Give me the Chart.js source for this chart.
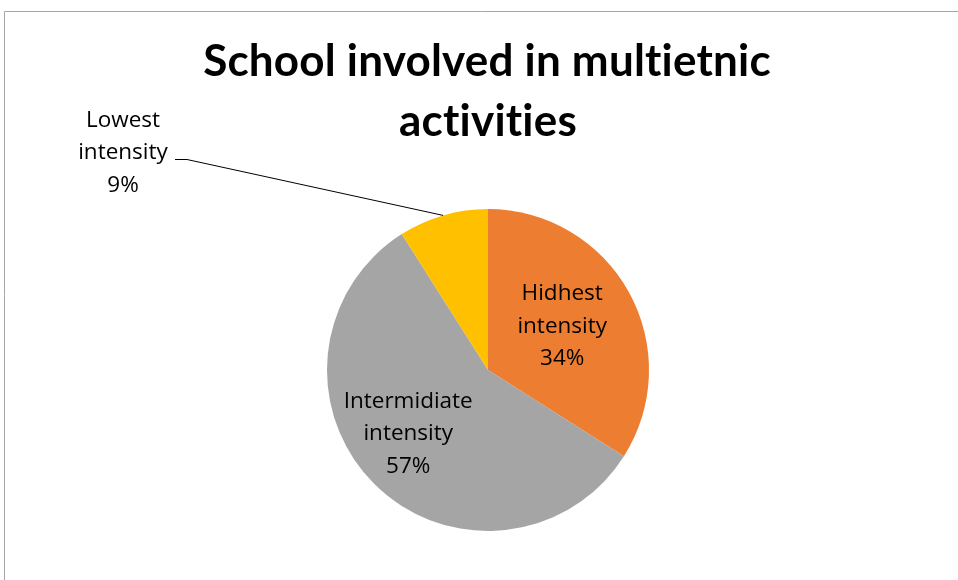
<!DOCTYPE html>
<html>
<head>
<meta charset="utf-8">
<script src="https://cdn.jsdelivr.net/npm/chart.js@4.4.0/dist/chart.umd.min.js"></script>
<style>
  body { margin: 0; background: #fff; }
  #wrap { width: 958px; height: 580px; }
</style>
</head>
<body>
<div id="wrap"><canvas id="myChart" width="958" height="580"></canvas></div>
<script>
const chartTitle = ['School involved in multietnic', 'activities'];
const categories = [['Hidhest', 'intensity'], ['Intermidiate', 'intensity'], ['Lowest', 'intensity']];
const shares = [34, 57, 9];
const sliceColors = ['#ED7D31', '#A5A5A5', '#FFC000'];

const chartContext = document.getElementById('myChart').getContext('2d');

// frame lines, title and the data labels are drawn by hand (Excel look)
const excelLook = {
  id: 'excelLook',
  beforeDraw(chart) {
    const ctx = chart.ctx;
    ctx.save();
    ctx.fillStyle = '#fff';
    ctx.fillRect(0, 0, chart.width, chart.height);
    ctx.strokeStyle = '#a6a6a6';
    ctx.lineWidth = 1;
    ctx.beginPath();
    ctx.moveTo(4.5, chart.height);
    ctx.lineTo(4.5, 11.5);
    ctx.lineTo(chart.width, 11.5);
    ctx.stroke();

    ctx.fillStyle = '#000';
    ctx.font = 'bold 44px Lato';
    ctx.textRendering = 'optimizeSpeed';   // no "ti" ligature
    ctx.letterSpacing = '0.2px';
    ctx.textAlign = 'center';
    ctx.textBaseline = 'alphabetic';
    ctx.fillText(chartTitle[0], 487, 76);
    ctx.fillText(chartTitle[1], 488, 136);
    ctx.restore();
  },
  afterDatasetsDraw(chart) {
    const ctx = chart.ctx;
    const meta = chart.getDatasetMeta(0);
    const total = shares.reduce((a, b) => a + b, 0);
    ctx.save();
    ctx.fillStyle = '#000';
    ctx.font = '22.5px "Open Sans"';
    ctx.textAlign = 'center';
    ctx.textBaseline = 'middle';
    const lineH = 32.5;
    const insideFrac = [0.535, 0.635];
    const insideNudge = [-0.03, 0.11];

    meta.data.forEach((arc, i) => {
      const p = arc.getProps(['x', 'y', 'startAngle', 'endAngle', 'outerRadius'], true);
      const mid = (p.startAngle + p.endAngle) / 2;
      const lines = categories[i].concat([Math.round(shares[i] / total * 100) + '%']);
      let cx, cy;
      if (i < 2) {
        const a = mid + insideNudge[i];
        cx = p.x + Math.cos(a) * p.outerRadius * insideFrac[i];
        cy = p.y + Math.sin(a) * p.outerRadius * insideFrac[i];
      } else {
        // outside label with leader line
        const ex = p.x + Math.cos(mid) * p.outerRadius;
        const ey = p.y + Math.sin(mid) * p.outerRadius;
        ctx.strokeStyle = '#000';
        ctx.lineWidth = 1;
        ctx.beginPath();
        ctx.moveTo(ex, ey);
        ctx.lineTo(187, 159.5);
        ctx.lineTo(175, 159.5);
        ctx.stroke();
        cx = 123;
        cy = 153;
      }
      lines.forEach((t, k) => {
        ctx.fillText(t, cx, cy + (k - 1) * lineH);
      });
    });
    ctx.restore();
  }
};

new Chart(chartContext, {
  type: 'pie',
  data: {
    labels: categories.map(c => c.join(' ')),
    datasets: [{
      data: shares,
      backgroundColor: sliceColors,
      borderWidth: 0
    }]
  },
  options: {
    responsive: false,
    animation: false,
    layout: { padding: { top: 209, bottom: 49, left: 100, right: 82 } },
    plugins: {
      legend: { display: false },
      title: { display: false },
      tooltip: { enabled: false }
    }
  },
  plugins: [excelLook]
});
</script>
</body>
</html>
